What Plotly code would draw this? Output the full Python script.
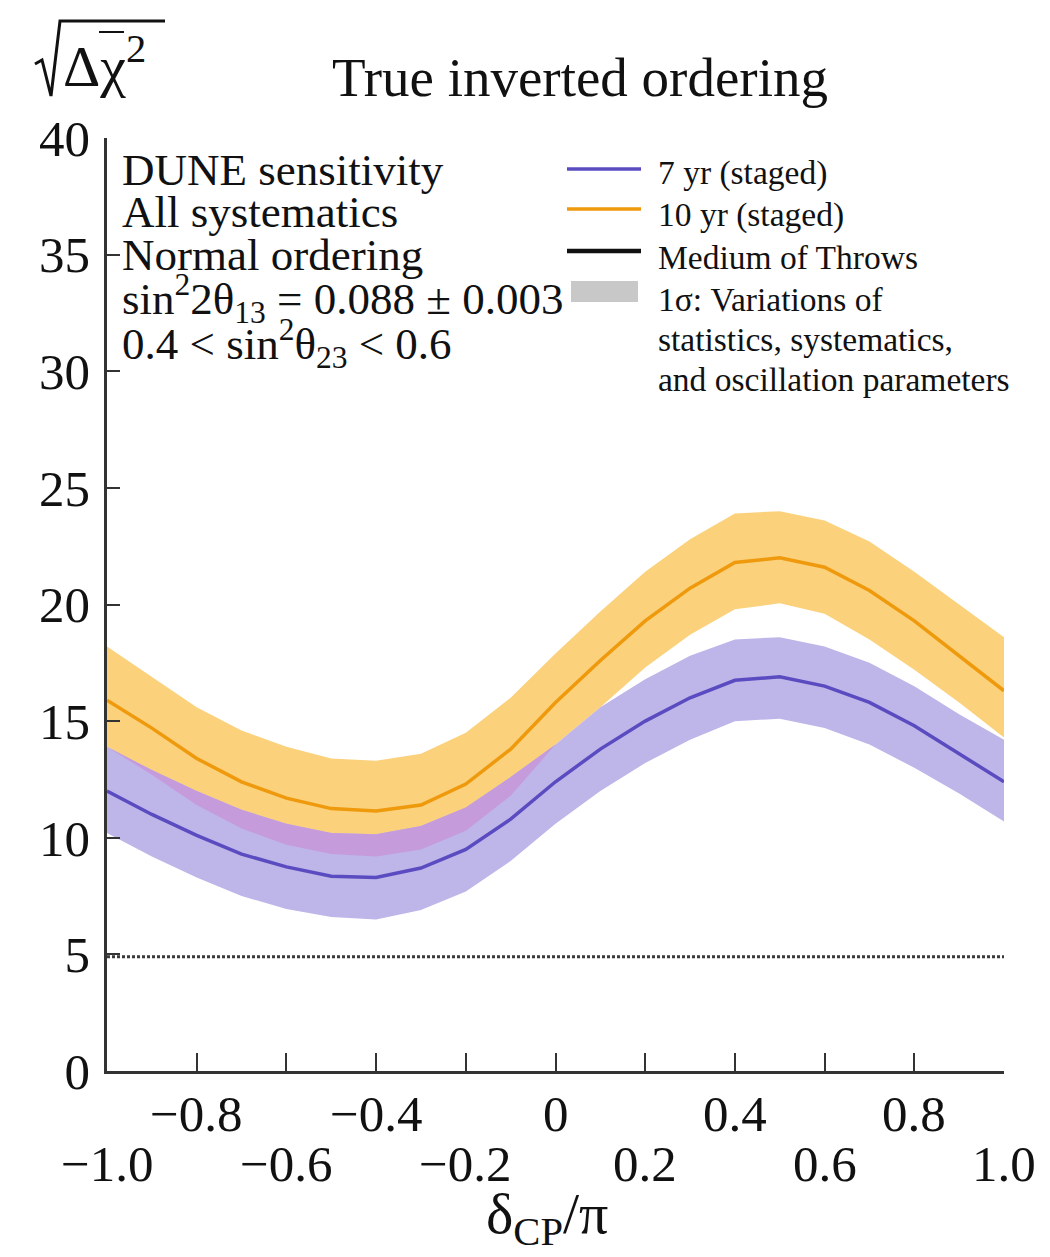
import numpy as np
import plotly.graph_objects as go

# ---------------- data ----------------
delta_cp = [-1.0, -0.9, -0.8, -0.7, -0.6, -0.5, -0.4, -0.3, -0.2, -0.1, 0.0,
            0.1, 0.2, 0.3, 0.4, 0.5, 0.6, 0.7, 0.8, 0.9, 1.0]

# 10 yr (staged): median and 1 sigma band
yr10_med = [15.9, 14.7, 13.4, 12.4, 11.7, 11.25, 11.15, 11.4, 12.3, 13.8, 15.8,
            17.6, 19.3, 20.7, 21.8, 22.0, 21.6, 20.6, 19.3, 17.8, 16.3]
yr10_hi = [18.2, 16.9, 15.6, 14.6, 13.9, 13.4, 13.3, 13.6, 14.5, 16.0, 17.9,
           19.7, 21.4, 22.8, 23.9, 24.0, 23.6, 22.7, 21.4, 20.0, 18.6]
yr10_lo = [13.9, 12.7, 11.4, 10.4, 9.7, 9.3, 9.2, 9.5, 10.3, 11.8, 14.0,
           15.6, 17.3, 18.7, 19.8, 20.05, 19.6, 18.5, 17.2, 15.8, 14.3]

# 7 yr (staged): median and 1 sigma band
yr7_med = [12.0, 11.0, 10.1, 9.3, 8.75, 8.35, 8.3, 8.7, 9.5, 10.8, 12.4,
           13.8, 15.0, 16.0, 16.75, 16.9, 16.5, 15.8, 14.8, 13.6, 12.4]
yr7_hi = [13.9, 12.9, 12.0, 11.2, 10.6, 10.2, 10.15, 10.5, 11.3, 12.6, 14.0,
          15.6, 16.8, 17.8, 18.5, 18.6, 18.2, 17.5, 16.5, 15.3, 14.2]
yr7_lo = [10.2, 9.2, 8.3, 7.5, 6.95, 6.6, 6.5, 6.9, 7.7, 9.0, 10.6,
          12.0, 13.2, 14.2, 15.0, 15.1, 14.7, 14.0, 13.0, 11.9, 10.7]

threshold = 4.9  # dotted reference line

y_ticks = [0, 5, 10, 15, 20, 25, 30, 35, 40]
x_ticks = [-1.0, -0.8, -0.6, -0.4, -0.2, 0.0, 0.2, 0.4, 0.6, 0.8, 1.0]
x_labels = ["\u22121.0", "\u22120.8", "\u22120.6", "\u22120.4", "\u22120.2", "0",
            "0.2", "0.4", "0.6", "0.8", "1.0"]

info_lines = ["DUNE sensitivity", "All systematics", "Normal ordering",
              "sin<sup>2</sup>2\u03b8<sub>13</sub> = 0.088 \u00b1 0.003",
              "0.4 < sin<sup>2</sup>\u03b8<sub>23</sub> < 0.6"]
legend_labels = ["7 yr (staged)", "10 yr (staged)", "Medium of Throws",
                 "1\u03c3: Variations of", "statistics, systematics,",
                 "and oscillation parameters"]

# ---------------- styling / layout geometry ----------------
W, H = 1050, 1257
L, R, T, B = 107, 46, 138, 186
PW, PH = W - L - R, H - T - B
SERIF = "Liberation Serif"
AX = "#333333"
TXT = "#111111"

def px(xpix):
    return (xpix - L) / PW

def py(ypix):
    return (H - B - ypix) / PH

C_OR_BAND = "#FBD17B"
C_OR_LINE = "#EF990C"
C_PU_BAND = "#BEB5E9"
C_PU_LINE = "#5A4CC0"
C_OVER = "#C59BDC"

x = np.array(delta_cp)
o_hi, o_lo = np.array(yr10_hi), np.array(yr10_lo)
p_hi, p_lo = np.array(yr7_hi), np.array(yr7_lo)
ov_lo = np.maximum(o_lo, p_lo)
ov_hi = np.maximum(np.minimum(o_hi, p_hi), ov_lo)

def band(xv, lo, hi, color):
    return go.Scatter(x=list(xv) + list(xv[::-1]), y=list(hi) + list(lo[::-1]),
                      fill="toself", fillcolor=color, line=dict(width=0),
                      mode="lines", hoverinfo="skip", showlegend=False)

fig = go.Figure()
fig.add_trace(band(x, o_lo, o_hi, C_OR_BAND))
fig.add_trace(band(x, p_lo, p_hi, C_PU_BAND))
fig.add_trace(band(x, ov_lo, ov_hi, C_OVER))
fig.add_trace(go.Scatter(x=[delta_cp[0], delta_cp[-1]], y=[threshold, threshold],
                         mode="lines", line=dict(color="#3a3a3a", width=3, dash="3px,2px"),
                         showlegend=False))
fig.add_trace(go.Scatter(x=delta_cp, y=yr10_med, mode="lines",
                         line=dict(color=C_OR_LINE, width=3.5), showlegend=False))
fig.add_trace(go.Scatter(x=delta_cp, y=yr7_med, mode="lines",
                         line=dict(color=C_PU_LINE, width=3.5), showlegend=False))

fig.update_xaxes(range=[-1.0, 1.0], tickvals=x_ticks, showticklabels=False,
                 ticks="inside", ticklen=18, tickwidth=2, tickcolor=AX,
                 showline=True, linewidth=2.5, linecolor=AX, showgrid=False,
                 zeroline=False)
fig.update_yaxes(range=[0, 40], tickvals=y_ticks,
                 ticks="inside", ticklen=13, tickwidth=2, tickcolor=AX,
                 showline=True, linewidth=2.5, linecolor=AX, showgrid=False,
                 zeroline=False, ticklabelstandoff=4,
                 tickfont=dict(family=SERIF, size=51, color=TXT))

ann = []
# staggered x tick labels (two rows)
for i, (tv, lab) in enumerate(zip(x_ticks, x_labels)):
    yc = 1164 if i % 2 == 0 else 1114
    ann.append(dict(x=tv, xref="x", y=py(yc), yref="paper", text=lab,
                    showarrow=False, xanchor="center", yanchor="middle",
                    font=dict(family=SERIF, size=51, color=TXT)))
# x axis title
ann.append(dict(x=px(547), y=py(1217), xref="paper", yref="paper",
                text="\u03b4<sub>CP</sub>/\u03c0", showarrow=False,
                xanchor="center", yanchor="middle",
                font=dict(family=SERIF, size=58, color=TXT)))
# y axis title (radical drawn as a shape below)
ann.append(dict(x=px(61), y=py(62), xref="paper", yref="paper",
                text="\u0394\u03c7<sup>2</sup>", showarrow=False,
                xanchor="left", yanchor="middle",
                font=dict(family=SERIF, size=58, color=TXT)))
# title
ann.append(dict(x=px(580), y=py(78), xref="paper", yref="paper",
                text="True inverted ordering", showarrow=False,
                xanchor="center", yanchor="middle",
                font=dict(family=SERIF, size=55, color=TXT)))
# info text block
for txt, yc in zip(info_lines, [170, 212, 255, 298, 343]):
    ann.append(dict(x=px(120), y=py(yc), xref="paper", yref="paper", text=txt,
                    showarrow=False, xanchor="left", yanchor="middle",
                    font=dict(family=SERIF, size=45, color=TXT)))
# legend text
for txt, yc in zip(legend_labels, [173, 215, 257, 299, 339, 379]):
    ann.append(dict(x=px(656), y=py(yc), xref="paper", yref="paper", text=txt,
                    showarrow=False, xanchor="left", yanchor="middle",
                    font=dict(family=SERIF, size=33.5, color=TXT)))

def pt(a, b):
    return f"{px(a):.5f},{py(b):.5f}"

radical = ("M " + pt(35, 64) + " L " + pt(42, 60) + " L " + pt(51, 96) +
           " L " + pt(60, 21) + " L " + pt(165, 21))

shapes = [
    dict(type="path", xref="paper", yref="paper", path=radical,
         line=dict(color=TXT, width=3)),
    dict(type="line", xref="paper", yref="paper", x0=px(99), x1=px(124),
         y0=py(32), y1=py(32), line=dict(color=TXT, width=2)),
    # legend samples
    dict(type="line", xref="paper", yref="paper", x0=px(567), x1=px(641),
         y0=py(169), y1=py(169), line=dict(color=C_PU_LINE, width=3.5)),
    dict(type="line", xref="paper", yref="paper", x0=px(567), x1=px(641),
         y0=py(209), y1=py(209), line=dict(color=C_OR_LINE, width=3.5)),
    dict(type="line", xref="paper", yref="paper", x0=px(567), x1=px(641),
         y0=py(251), y1=py(251), line=dict(color="#111", width=4.5)),
    dict(type="rect", xref="paper", yref="paper", x0=px(571), x1=px(638),
         y0=py(302), y1=py(281), fillcolor="#C8C8C8", line=dict(width=0)),
]

fig.update_layout(width=W, height=H, margin=dict(l=L, r=R, t=T, b=B),
                  plot_bgcolor="white", paper_bgcolor="white",
                  annotations=ann, shapes=shapes, showlegend=False)

fig.write_html("out.html")
